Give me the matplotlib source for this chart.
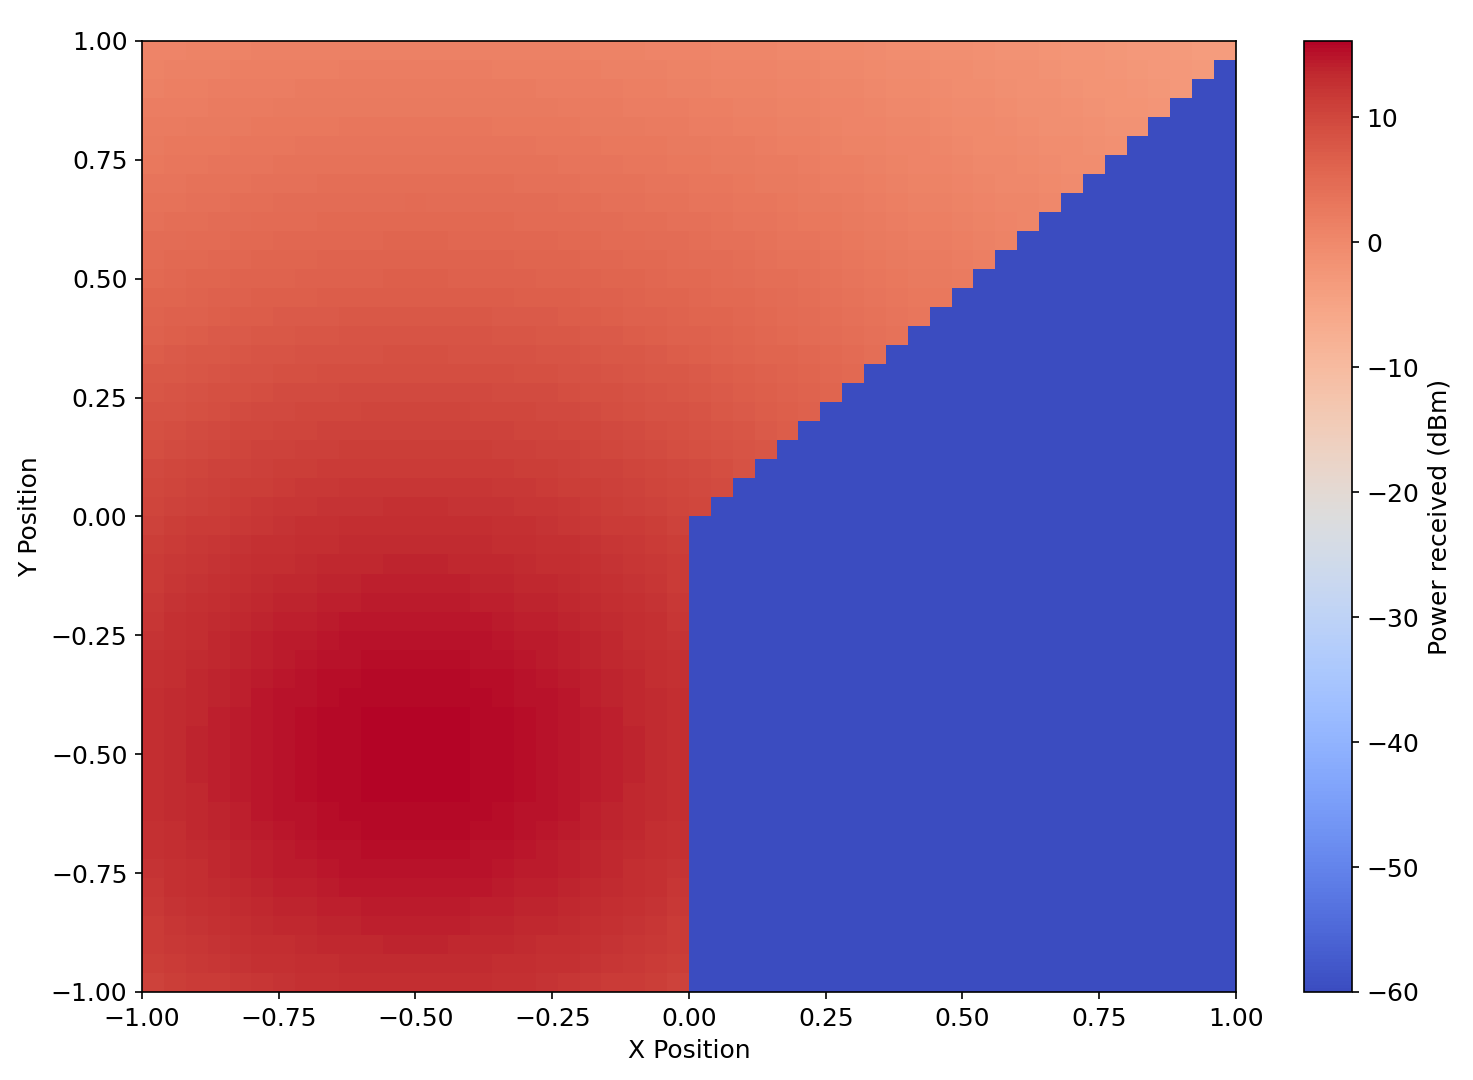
'''
    Heatmap of received power over a 2D floor, with the shadow
    behind the wall shown at the noise floor.
'''

import numpy as np
import matplotlib
matplotlib.use('Agg')
import matplotlib.pyplot as plt


# Grid of 50 x 50 cells over [-1, 1] x [-1, 1]
n_cells = 50
edges = np.linspace(-1, 1, n_cells + 1)

# Transmitter position (read from the hot spot)
tx_pos = (-0.5, -0.5)

profile_dist = [0.0, 0.1, 0.2, 0.3, 0.5, 0.75, 1.0, 1.25, 1.5, 1.75, 2.0, 2.15]
profile_dbm = [16.1, 15.9, 15.4, 14.7, 12.8, 9.9, 6.6, 3.8, 1.3, -0.8, -2.8, -3.9]

# Value shown inside the shadowed region
shadow_dbm = -60.0

ticks = np.arange(-1, 1.01, 0.25)
cbar_ticks = np.arange(-60, 11, 10)

plt.rcParams['font.size'] = 12


def build_grid():
    ''' One value per cell: profile lookup, shadowed cells get the floor '''
    centers = 0.5 * (edges[:-1] + edges[1:])
    xc, yc = np.meshgrid(centers, centers)
    dist = np.hypot(xc - tx_pos[0], yc - tx_pos[1])
    power = np.interp(dist, profile_dist, profile_dbm)
    jj, ii = np.meshgrid(np.arange(n_cells), np.arange(n_cells))
    # shadow: right of x=0 and below the line through tx and wall corner
    shadow = (jj >= n_cells // 2) & (ii < jj)
    power[shadow] = shadow_dbm
    return power


def plot_heatmap(power, save_as='out.png'):
    fig = plt.figure(figsize=(9.82, 7.2), dpi=150)
    ax = fig.add_axes([0.0964, 0.0815, 0.7427, 0.8806])
    cax = fig.add_axes([0.8853, 0.0815, 0.0326, 0.8806])
    mesh = ax.pcolormesh(edges, edges, power, cmap='coolwarm')
    ax.set_xlim(-1, 1)
    ax.set_ylim(-1, 1)
    ax.set_xticks(ticks)
    ax.set_yticks(ticks)
    ax.set_xlabel('X Position', labelpad=4)
    ax.set_ylabel('Y Position')
    cbar = fig.colorbar(mesh, cax=cax, ticks=cbar_ticks)
    cbar.set_label('Power received (dBm)')
    fig.savefig(save_as, dpi=150)


if __name__ == '__main__':
    plot_heatmap(build_grid())
